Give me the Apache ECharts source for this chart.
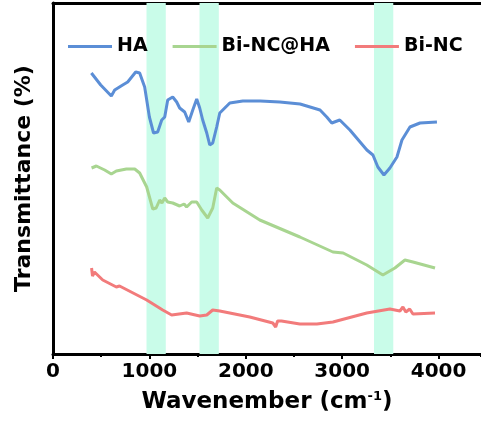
<!DOCTYPE html>
<html>
<head>
<meta charset="utf-8">
<script src="https://cdn.jsdelivr.net/npm/echarts@6/dist/echarts.min.js"></script>
<style>
  html, body { margin: 0; padding: 0; background: #fff; }
  #chart { width: 481px; height: 425px; }
</style>
</head>
<body>
<div id="chart"></div>
<script>
// wavenumbers (cm-1) and transmittance (offset, arb. units)
const haWave = [398, 495, 605, 640, 723, 775, 858, 899, 951, 1000, 1043, 1086, 1128, 1159, 1190, 1242, 1283, 1314, 1366, 1408, 1450, 1491, 1522, 1553, 1595, 1626, 1657, 1698, 1730, 1834, 1969, 2150, 2353, 2563, 2770, 2840, 2892, 2975, 3080, 3256, 3319, 3370, 3433, 3495, 3568, 3620, 3703, 3807, 3983];
const haT = [281, 269, 258, 264, 269, 272, 282, 281, 267, 237, 221, 222, 234, 237, 254, 257, 252, 246, 242, 232, 244, 255, 246, 234, 221, 209, 211, 227, 241, 251, 253, 253, 252, 250, 244, 237, 231, 234, 224, 204, 199, 187, 179, 186, 197, 214, 227, 231, 232];

const bihaWave = [400, 450, 536, 605, 657, 761, 848, 899, 972, 1035, 1070, 1107, 1130, 1159, 1190, 1242, 1314, 1360, 1386, 1439, 1491, 1543, 1605, 1657, 1698, 1730, 1865, 2145, 2561, 2904, 3010, 3255, 3422, 3547, 3651, 3734, 3963];
const bihaT = [186, 188, 184, 180, 183, 185, 185, 181, 167, 145, 146, 154, 151, 156, 152, 151, 148, 150, 147, 152, 152, 144, 136, 146, 166, 164, 151, 134, 117, 102, 101, 89, 79, 86, 94, 92, 86];

const binWave = [400, 410, 430, 516, 657, 670, 690, 972, 1138, 1231, 1386, 1522, 1595, 1657, 1730, 2041, 2280, 2310, 2330, 2370, 2561, 2738, 2904, 3255, 3495, 3599, 3630, 3660, 3700, 3734, 3963];
const binT = [86, 78, 82, 74, 67, 65, 68, 54, 44, 39, 41, 38, 39, 44, 43, 37, 31, 27, 33, 33, 30, 30, 32, 41, 45, 43, 47, 42, 45, 40, 41];

// highlighted absorption bands
const bands = [[970, 1170], [1520, 1720], [3330, 3530]];

const seriesNames = ["HA", "Bi-NC@HA", "Bi-NC"];
const colors = ["#5b8ed6", "#a8d590", "#f27b7b"];

const zip = (xs, ys) => xs.map((x, i) => [x, ys[i]]);

const myChart = echarts.init(document.getElementById("chart"));
const font = "DejaVu Sans";

const lineSeries = (i, xs, ys) => ({
  name: seriesNames[i], type: "line", symbol: "none", z: 3,
  itemStyle: { color: colors[i] },
  lineStyle: { width: 3, color: colors[i] },
  data: zip(xs, ys)
});

// the frame is cut off at the right edge of the picture, so the axis stops at ~4440
const xMax = 4440;

const option = {
  animation: false,
  grid: { left: 53, right: 0, top: 3, bottom: 71 },
  legend: {
    data: seriesNames,
    left: 63, top: 32,
    icon: "rect",
    itemWidth: 44, itemHeight: 3, itemGap: 25,
    textStyle: { fontFamily: font, fontWeight: "bold", fontSize: 19, color: "#000" }
  },
  xAxis: [
    {
      type: "value",
      min: 0, max: xMax, interval: 1000,
      name: "{a|Wavenember (cm}{s|-1}{a|)}",
      nameLocation: "middle",
      nameGap: 36,
      nameTextStyle: {
        rich: {
          a: { fontFamily: font, fontWeight: "bold", fontSize: 23, color: "#000" },
          s: { fontFamily: font, fontWeight: "bold", fontSize: 13, color: "#000", padding: [0, 0, 12, 0] }
        }
      },
      axisLine: { lineStyle: { color: "#000", width: 3 } },
      axisTick: { inside: false, length: 5, lineStyle: { color: "#000", width: 2 } },
      axisLabel: {
        margin: 8, showMaxLabel: false,
        fontFamily: font, fontWeight: "bold", fontSize: 20, color: "#000",
        formatter: v => String(v)
      },
      splitLine: { show: false }
    },
    {
      // small ticks at the half-thousands
      type: "value", position: "bottom",
      min: 0, max: xMax, interval: 500,
      axisLine: { show: false },
      axisTick: { length: 3, lineStyle: { color: "#000", width: 2 } },
      axisLabel: { show: false },
      splitLine: { show: false }
    },
    {
      // top edge of the frame
      type: "value", position: "top",
      min: 0, max: xMax,
      axisLine: { show: true, lineStyle: { color: "#000", width: 3 } },
      axisTick: { show: false },
      axisLabel: { show: false },
      splitLine: { show: false }
    }
  ],
  yAxis: {
    type: "value",
    min: 0, max: 351,
    name: "Transmittance (%)",
    nameLocation: "middle",
    nameGap: 18,
    nameTextStyle: { fontFamily: font, fontWeight: "bold", fontSize: 22, color: "#000" },
    axisLine: { show: true, lineStyle: { color: "#000", width: 3 } },
    axisTick: { show: false },
    axisLabel: { show: false },
    splitLine: { show: false }
  },
  series: [
    {
      name: "bands",
      type: "line",
      data: [],
      silent: true,
      markArea: {
        silent: true,
        itemStyle: { color: "#c9fce9" },
        data: bands.map(b => [{ xAxis: b[0] }, { xAxis: b[1] }])
      }
    },
    lineSeries(0, haWave, haT),
    lineSeries(1, bihaWave, bihaT),
    lineSeries(2, binWave, binT)
  ]
};
myChart.setOption(option);
</script>
</body>
</html>
